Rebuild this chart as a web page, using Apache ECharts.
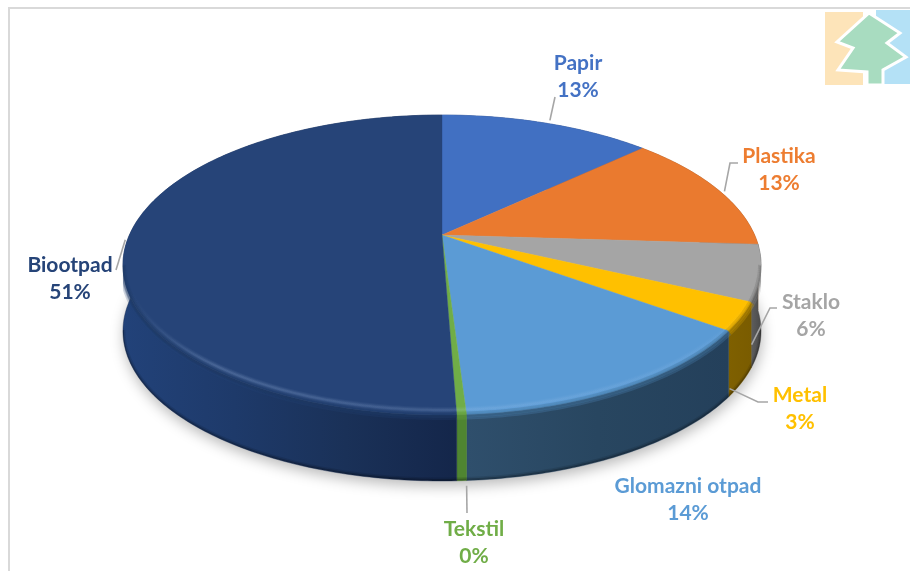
<!DOCTYPE html>
<html>
<head>
<meta charset="utf-8">
<style>html,body{margin:0;padding:0;background:#fff}#chart{width:910px;height:571px}</style>
<script src="https://cdn.jsdelivr.net/npm/echarts@6/dist/echarts.min.js"></script>
</head>
<body>
<div id="chart"></div>
<script>
// Waste composition, in percent of the total
const categories = ['Papir', 'Plastika', 'Staklo', 'Metal', 'Glomazni otpad', 'Tekstil', 'Biootpad'];
const shares = [13, 13, 6, 3, 14, 0.4, 50.6];

// Slice colours: top face, label text, and wall shading from left to right
const topColors = ['#4170c2', '#ea7a2f', '#a5a5a5', '#ffc000', '#5b9bd5', '#70ad47', '#264478'];
const textColors = ['#4472c4', '#ed7d31', '#a5a5a5', '#ffc000', '#5b9bd5', '#70ad47', '#264478'];
const wallColors = [
  ['#27437a', '#27437a'], ['#8e4b1d', '#8e4b1d'], ['#5e5e5e', '#4a4a4a'], ['#7f6000', '#7a5c00'],
  ['#2f4f6c', '#284660', '#24405b'], ['#4f8531', '#4f8531'], ['#224279', '#1e3a6a', '#1a3158', '#14264a']
];

// Perspective of the disc: unit circle projected on to the page
const cx = 442, cy = 235, scaleX = 312.6, scaleY = 144, tilt = 0.2, depth = 66;

function project(theta, drop) {
  const u = Math.sin(theta), v = Math.cos(theta), w = 1 + tilt * v;
  return [cx + scaleX * u / w, cy - scaleY * v / w + (drop || 0)];
}
function arc(a0, a1, drop) {
  const n = Math.max(2, Math.ceil(Math.abs(a1 - a0) / 0.015)), pts = [];
  for (let i = 0; i <= n; i++) pts.push(project(a0 + (a1 - a0) * i / n, drop));
  return pts;
}

const total = shares.reduce((s, v) => s + v, 0);
const spans = [];
shares.reduce((acc, v) => {
  spans.push([acc / total * 2 * Math.PI, (acc + v) / total * 2 * Math.PI]);
  return acc + v;
}, 0);

// Label placement: text centre, leader start relative to the slice's rim, leader bends
const labelLayout = [
  { text: [578, 77], start: [3, -3], bends: [[555, 97]] },
  { text: [779, 170], start: [7, 2], bends: [[730, 163], [738, 163]] },
  { text: [811, 316], start: [-9, 72], bends: [[770, 308], [777, 308]] },
  { text: [800, 409], start: [-12, 72], bends: [[758, 402], [768, 402]] },
  { text: [688, 500], start: null, bends: [] },
  { text: [474, 543], start: [5, 71], bends: [[467, 513]] },
  { text: [70, 279], start: [-3, 2], bends: [[116, 270]] }
];

const chart = echarts.init(document.getElementById('chart'), null, { renderer: 'canvas' });
const seriesData = shares.map((v, i) => [v, i]);
const rad = d => d * Math.PI / 180;
const sideRight = rad(101.5), sideLeft = rad(258.5);

// Outline of the whole solid, used to keep the rim shading inside it
const outline = arc(sideLeft, rad(461.5), 0).concat(arc(sideRight, sideLeft, depth));

function gradientAcross(colors, pts) {
  const xs = pts.map(p => p[0]);
  return new echarts.graphic.LinearGradient(Math.min(...xs), 0, Math.max(...xs) + 0.01, 0,
    colors.map((color, k) => ({ offset: k / (colors.length - 1), color })), true);
}
// Highlight along the rim fades out towards both sides of the disc
function glint(alpha) {
  const c = a => 'rgba(190,215,250,' + (a * alpha) + ')';
  return new echarts.graphic.LinearGradient(128, 0, 755, 0, [
    { offset: 0, color: c(0) }, { offset: 0.14, color: c(1) }, { offset: 0.5, color: c(0.8) },
    { offset: 0.9, color: c(0.4) }, { offset: 1, color: c(0) }
  ], true);
}

chart.setOption({
  animation: false,
  backgroundColor: '#ffffff',
  graphic: [
    { type: 'polyline', silent: true, z: 0, shape: { points: [[9, 571], [9, 8], [910, 8]] },
      style: { stroke: '#d9d9d9', lineWidth: 2, fill: null } },
    { type: 'rect', silent: true, z: 0, shape: { x: 825, y: 12, width: 38, height: 73 }, style: { fill: '#fde4b9' } },
    { type: 'rect', silent: true, z: 0, shape: { x: 876, y: 10, width: 34, height: 74 }, style: { fill: '#b4e1f6' } },
    { type: 'polygon', silent: true, z: 1,
      shape: { points: [[869, 13], [900, 33], [887, 43], [906, 57], [883, 70], [883, 85], [867, 85], [867, 72], [838, 70], [853, 48], [837, 42]] },
      style: { fill: '#a8dcc0', stroke: '#ffffff', lineWidth: 3, lineJoin: 'miter' } }
  ],
  series: [
    // Soft shadow under the disc
    { type: 'custom', coordinateSystem: 'none', silent: true, z: 2, data: [[1]],
      renderItem: () => ({
        type: 'polygon',
        shape: { points: arc(0, 2 * Math.PI, depth) },
        style: { fill: '#dddddd', shadowColor: 'rgba(0,0,0,0.28)', shadowBlur: 14, shadowOffsetX: 1, shadowOffsetY: 5 }
      }) },
    // Outer walls
    { type: 'custom', coordinateSystem: 'none', silent: true, z: 3, data: seriesData,
      renderItem: (params, api) => {
        const i = api.value(1), s = spans[i];
        const upper = arc(s[0], s[1], 0), lower = arc(s[1], s[0], depth);
        return { type: 'polygon', shape: { points: upper.concat(lower) },
          style: { fill: gradientAcross(wallColors[i], upper), stroke: wallColors[i][wallColors[i].length - 1], lineWidth: 0.4 } };
      } },
    // Top faces
    { type: 'custom', coordinateSystem: 'none', silent: true, z: 4, data: seriesData,
      renderItem: (params, api) => {
        const i = api.value(1), s = spans[i];
        return { type: 'polygon', shape: { points: [[cx, cy]].concat(arc(s[0], s[1], 0)) },
          style: { fill: topColors[i], stroke: topColors[i], lineWidth: 0.4 } };
      } },
    // Rounded rim: soft passage from top face to wall, highlight, darker foot of the wall
    { type: 'custom', coordinateSystem: 'none', silent: true, z: 5, data: seriesData,
      renderItem: (params, api) => {
        const i = api.value(1), s = spans[i];
        const a0 = Math.max(s[0], sideRight), a1 = Math.min(s[1], sideLeft);
        if (a1 <= a0) return null;
        const w = wallColors[i][Math.floor(wallColors[i].length / 2)];
        const band = (width, opacity, drop, stroke) => ({ type: 'polyline', shape: { points: arc(a0, a1, drop) },
          style: { fill: null, stroke, lineWidth: width, opacity } });
        return { type: 'group',
          clipPath: { type: 'polygon', shape: { points: outline } },
          children: [
            // the top colour spills a little over the wall
            band(8, 0.22, 1, topColors[i]), band(4, 0.3, 1, topColors[i]),
            // the wall colour spills a little over the top face
            band(6, 0.18, 0, w), band(3, 0.22, 1, w),
            band(6, 1, -5, glint(0.05)), band(4, 1, -5, glint(0.07)), band(2, 1, -5, glint(0.1)),
            band(5, 0.1, depth - 1, '#000000'), band(2, 0.2, depth - 1, '#000000')
          ] };
      } },
    // Leader lines
    { type: 'custom', coordinateSystem: 'none', silent: true, z: 6, data: seriesData,
      renderItem: (params, api) => {
        const i = api.value(1), s = spans[i], l = labelLayout[i];
        if (!l.start) return null;
        const rim = project((s[0] + s[1]) / 2, 0);
        const pts = [[rim[0] + l.start[0], rim[1] + l.start[1]]].concat(l.bends);
        return { type: 'polyline', shape: { points: pts },
          style: { fill: null, stroke: '#a6a6a6', lineWidth: 1.6 } };
      } },
    // Category name and rounded share
    { type: 'custom', coordinateSystem: 'none', silent: true, z: 7, data: seriesData,
      renderItem: (params, api) => {
        const i = api.value(1), l = labelLayout[i];
        return { type: 'text', style: {
          text: categories[i] + '\n' + Math.round(api.value(0)) + '%',
          x: l.text[0], y: l.text[1], align: 'center', verticalAlign: 'middle',
          fill: textColors[i], font: 'bold 21px Lato, sans-serif', lineHeight: 27
        } };
      } }
  ]
});
</script>
</body>
</html>
